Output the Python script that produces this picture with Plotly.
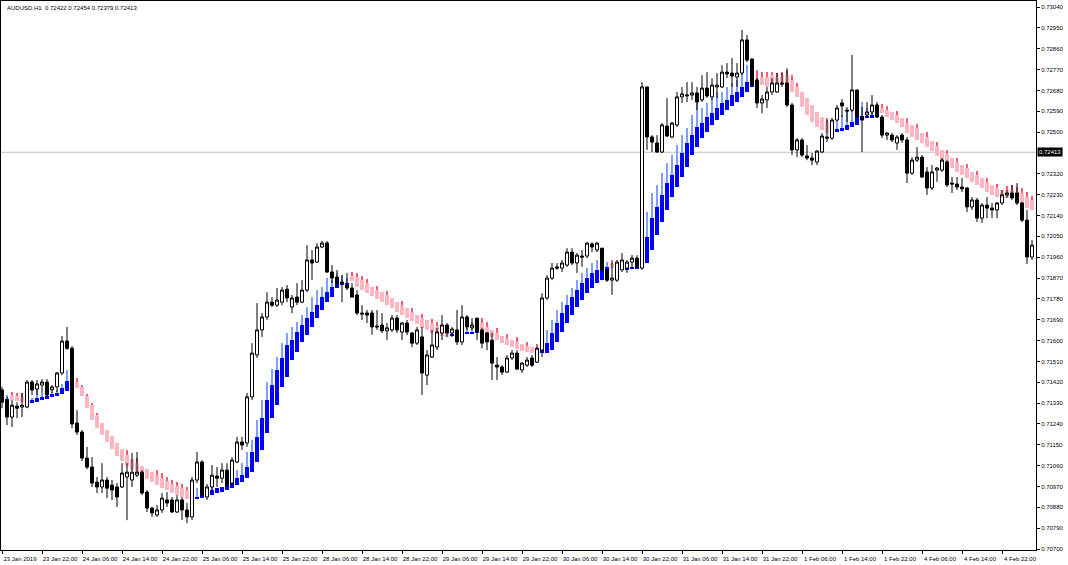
import plotly.graph_objects as go

symbol_title = "AUDUSD,H1  0.72422 0.72454 0.72379 0.72413"
last_price = 0.72413

date_labels = ["23 Jan 2019", "23 Jan 22:00", "24 Jan 06:00", "24 Jan 14:00", "24 Jan 22:00",
               "25 Jan 06:00", "25 Jan 14:00", "25 Jan 22:00", "28 Jan 06:00", "28 Jan 14:00",
               "28 Jan 22:00", "29 Jan 06:00", "29 Jan 14:00", "29 Jan 22:00", "30 Jan 06:00",
               "30 Jan 14:00", "30 Jan 22:00", "31 Jan 06:00", "31 Jan 14:00", "31 Jan 22:00",
               "1 Feb 06:00", "1 Feb 14:00", "1 Feb 22:00", "4 Feb 06:00", "4 Feb 14:00", "4 Feb 22:00"]
date_label_bars = [0, 8, 16, 24, 32, 40, 48, 56, 64, 72, 80, 88, 96, 104, 112, 120, 128,
                   136, 144, 152, 160, 168, 176, 184, 192, 200]

price_ticks = [0.70700, 0.70790, 0.70880, 0.70970, 0.71060, 0.71150, 0.71240, 0.71330, 0.71420,
               0.71510, 0.71600, 0.71690, 0.71780, 0.71870, 0.71960, 0.72050, 0.72140, 0.72230,
               0.72320, 0.72500, 0.72590, 0.72680, 0.72770, 0.72860, 0.72950, 0.73040]

bar_open = [
    0.71387, 0.71343, 0.71270, 0.71317, 0.71313, 0.71313, 0.71421, 0.71391, 0.71408, 0.71421,
    0.71387, 0.71400, 0.71460, 0.71598, 0.71567, 0.71244, 0.71205, 0.71093, 0.71054, 0.70989,
    0.70968, 0.70998, 0.70976, 0.70968, 0.70968, 0.71011, 0.70998, 0.71019, 0.71032, 0.70946,
    0.70877, 0.70847, 0.70869, 0.70912, 0.70912, 0.70860, 0.70912, 0.70869, 0.70839, 0.70998,
    0.71076, 0.70925, 0.70968, 0.71015, 0.71006, 0.71041, 0.70985, 0.71076, 0.71162, 0.71158,
    0.71357, 0.71538, 0.71646, 0.71702, 0.71766, 0.71753, 0.71766, 0.71822, 0.71745, 0.71788,
    0.71766, 0.71818, 0.71948, 0.71939, 0.72004, 0.72021, 0.71896, 0.71874, 0.71853, 0.71840,
    0.71827, 0.71797, 0.71719, 0.71719, 0.71719, 0.71663, 0.71667, 0.71642, 0.71646, 0.71697,
    0.71637, 0.71676, 0.71633, 0.71589, 0.71616, 0.71451, 0.71529, 0.71572, 0.71633, 0.71667,
    0.71633, 0.71646, 0.71594, 0.71702, 0.71655, 0.71697, 0.71646, 0.71633, 0.71602, 0.71494,
    0.71486, 0.71464, 0.71525, 0.71546, 0.71473, 0.71494, 0.71525, 0.71507, 0.71559, 0.71784,
    0.71870, 0.71918, 0.71913, 0.71926, 0.71982, 0.71935, 0.71965, 0.71965, 0.72017, 0.71991,
    0.71999, 0.71905, 0.71861, 0.71861, 0.71905, 0.71913, 0.71939, 0.71956, 0.71913, 0.72695,
    0.72479, 0.72453, 0.72414, 0.72526, 0.72479, 0.72531, 0.72652, 0.72656, 0.72660, 0.72669,
    0.72639, 0.72690, 0.72652, 0.72695, 0.72695, 0.72759, 0.72755, 0.72738, 0.72755, 0.72898,
    0.72815, 0.72725, 0.72626, 0.72639, 0.72673, 0.72673, 0.72712, 0.72712, 0.72617, 0.72423,
    0.72466, 0.72397, 0.72388, 0.72371, 0.72414, 0.72479, 0.72474, 0.72552, 0.72626, 0.72595,
    0.72595, 0.72682, 0.72565, 0.72574, 0.72587, 0.72617, 0.72565, 0.72487, 0.72487, 0.72453,
    0.72487, 0.72466, 0.72323, 0.72379, 0.72392, 0.72328, 0.72259, 0.72336, 0.72336, 0.72371,
    0.72280, 0.72276, 0.72263, 0.72259, 0.72177, 0.72207, 0.72129, 0.72185, 0.72172, 0.72164,
    0.72194, 0.72229, 0.72237, 0.72237, 0.72194, 0.72120, 0.71961]

bar_high = [
    0.71400, 0.71357, 0.71343, 0.71334, 0.71374, 0.71430, 0.71430, 0.71430, 0.71434, 0.71434,
    0.71408, 0.71464, 0.71620, 0.71659, 0.71576, 0.71300, 0.71214, 0.71141, 0.71097, 0.71011,
    0.71071, 0.71011, 0.70998, 0.70985, 0.71071, 0.71071, 0.71115, 0.71119, 0.71041, 0.70955,
    0.70882, 0.70890, 0.70942, 0.70946, 0.70925, 0.70933, 0.70925, 0.70899, 0.71011, 0.71119,
    0.71084, 0.70981, 0.71063, 0.71054, 0.71071, 0.71071, 0.71097, 0.71184, 0.71184, 0.71374,
    0.71589, 0.71762, 0.71719, 0.71809, 0.71788, 0.71827, 0.71831, 0.71840, 0.71797, 0.71848,
    0.71861, 0.72012, 0.71991, 0.72021, 0.72030, 0.72030, 0.71926, 0.71905, 0.71883, 0.71892,
    0.71848, 0.71818, 0.71753, 0.71732, 0.71732, 0.71732, 0.71719, 0.71676, 0.71710, 0.71710,
    0.71680, 0.71689, 0.71637, 0.71659, 0.71659, 0.71559, 0.71646, 0.71655, 0.71710, 0.71676,
    0.71659, 0.71732, 0.71753, 0.71710, 0.71697, 0.71697, 0.71655, 0.71637, 0.71633, 0.71529,
    0.71494, 0.71538, 0.71559, 0.71559, 0.71507, 0.71529, 0.71538, 0.71572, 0.71805, 0.71883,
    0.71935, 0.71935, 0.71948, 0.71999, 0.71999, 0.71978, 0.71991, 0.72025, 0.72025, 0.72025,
    0.71999, 0.71905, 0.71935, 0.71948, 0.71978, 0.71948, 0.71969, 0.71969, 0.72716, 0.72695,
    0.72487, 0.72487, 0.72539, 0.72647, 0.72544, 0.72673, 0.72695, 0.72716, 0.72716, 0.72695,
    0.72746, 0.72759, 0.72733, 0.72755, 0.72789, 0.72798, 0.72820, 0.72798, 0.72941, 0.72919,
    0.72820, 0.72733, 0.72660, 0.72695, 0.72733, 0.72755, 0.72755, 0.72776, 0.72626, 0.72474,
    0.72474, 0.72444, 0.72410, 0.72423, 0.72496, 0.72552, 0.72561, 0.72617, 0.72643, 0.72608,
    0.72833, 0.72682, 0.72608, 0.72630, 0.72660, 0.72630, 0.72574, 0.72500, 0.72496, 0.72487,
    0.72496, 0.72479, 0.72392, 0.72435, 0.72401, 0.72349, 0.72358, 0.72349, 0.72388, 0.72379,
    0.72306, 0.72306, 0.72302, 0.72263, 0.72220, 0.72216, 0.72194, 0.72220, 0.72194, 0.72198,
    0.72250, 0.72250, 0.72272, 0.72280, 0.72198, 0.72164, 0.72034]

bar_low = [
    0.71308, 0.71235, 0.71227, 0.71265, 0.71270, 0.71308, 0.71365, 0.71365, 0.71374, 0.71357,
    0.71374, 0.71378, 0.71451, 0.71559, 0.71222, 0.71192, 0.71080, 0.71045, 0.70968, 0.70942,
    0.70942, 0.70920, 0.70912, 0.70882, 0.70963, 0.70825, 0.70968, 0.71011, 0.70933, 0.70860,
    0.70839, 0.70839, 0.70856, 0.70882, 0.70856, 0.70856, 0.70825, 0.70812, 0.70825, 0.70985,
    0.70925, 0.70912, 0.70942, 0.70968, 0.70985, 0.70968, 0.70968, 0.71071, 0.71128, 0.71141,
    0.71343, 0.71525, 0.71616, 0.71689, 0.71745, 0.71745, 0.71753, 0.71766, 0.71719, 0.71753,
    0.71762, 0.71809, 0.71861, 0.71935, 0.71999, 0.71892, 0.71848, 0.71831, 0.71766, 0.71818,
    0.71784, 0.71710, 0.71689, 0.71676, 0.71625, 0.71646, 0.71633, 0.71602, 0.71637, 0.71633,
    0.71602, 0.71624, 0.71572, 0.71581, 0.71365, 0.71408, 0.71525, 0.71559, 0.71602, 0.71616,
    0.71616, 0.71581, 0.71581, 0.71646, 0.71646, 0.71602, 0.71567, 0.71559, 0.71430, 0.71430,
    0.71451, 0.71460, 0.71516, 0.71473, 0.71460, 0.71486, 0.71486, 0.71503, 0.71529, 0.71775,
    0.71861, 0.71905, 0.71896, 0.71918, 0.71926, 0.71892, 0.71918, 0.71956, 0.71982, 0.71982,
    0.71896, 0.71853, 0.71797, 0.71853, 0.71896, 0.71892, 0.71913, 0.71913, 0.71905, 0.72423,
    0.72414, 0.72410, 0.72410, 0.72479, 0.72474, 0.72522, 0.72626, 0.72630, 0.72639, 0.72595,
    0.72630, 0.72647, 0.72639, 0.72647, 0.72690, 0.72733, 0.72695, 0.72695, 0.72746, 0.72802,
    0.72695, 0.72604, 0.72582, 0.72604, 0.72660, 0.72669, 0.72695, 0.72608, 0.72401, 0.72392,
    0.72392, 0.72379, 0.72358, 0.72358, 0.72410, 0.72457, 0.72466, 0.72544, 0.72565, 0.72544,
    0.72587, 0.72561, 0.72414, 0.72561, 0.72574, 0.72561, 0.72474, 0.72466, 0.72457, 0.72423,
    0.72453, 0.72280, 0.72315, 0.72371, 0.72302, 0.72229, 0.72250, 0.72285, 0.72328, 0.72263,
    0.72237, 0.72250, 0.72241, 0.72155, 0.72164, 0.72112, 0.72108, 0.72129, 0.72129, 0.72129,
    0.72185, 0.72216, 0.72207, 0.72185, 0.72112, 0.71931, 0.71948]

bar_close = [
    0.71334, 0.71270, 0.71321, 0.71308, 0.71321, 0.71421, 0.71387, 0.71413, 0.71421, 0.71365,
    0.71400, 0.71460, 0.71598, 0.71567, 0.71240, 0.71205, 0.71093, 0.71054, 0.70985, 0.70968,
    0.70998, 0.70963, 0.70955, 0.70925, 0.71028, 0.71032, 0.71032, 0.71032, 0.70942, 0.70877,
    0.70856, 0.70869, 0.70920, 0.70899, 0.70860, 0.70912, 0.70869, 0.70839, 0.70998, 0.71076,
    0.70933, 0.70968, 0.71019, 0.71006, 0.71041, 0.70976, 0.71084, 0.71162, 0.71149, 0.71357,
    0.71546, 0.71646, 0.71702, 0.71766, 0.71753, 0.71775, 0.71818, 0.71784, 0.71784, 0.71766,
    0.71818, 0.71948, 0.71935, 0.72004, 0.72021, 0.71896, 0.71870, 0.71848, 0.71848, 0.71827,
    0.71788, 0.71719, 0.71715, 0.71710, 0.71659, 0.71659, 0.71642, 0.71655, 0.71697, 0.71646,
    0.71676, 0.71637, 0.71589, 0.71646, 0.71460, 0.71538, 0.71581, 0.71637, 0.71667, 0.71633,
    0.71650, 0.71594, 0.71702, 0.71659, 0.71667, 0.71637, 0.71589, 0.71594, 0.71503, 0.71486,
    0.71464, 0.71525, 0.71546, 0.71477, 0.71503, 0.71516, 0.71494, 0.71567, 0.71784, 0.71870,
    0.71913, 0.71913, 0.71935, 0.71982, 0.71935, 0.71969, 0.71961, 0.72021, 0.72004, 0.72021,
    0.71905, 0.71861, 0.71870, 0.71939, 0.71948, 0.71939, 0.71956, 0.71918, 0.72695, 0.72479,
    0.72457, 0.72414, 0.72531, 0.72483, 0.72539, 0.72652, 0.72665, 0.72660, 0.72669, 0.72630,
    0.72690, 0.72656, 0.72703, 0.72703, 0.72759, 0.72751, 0.72742, 0.72755, 0.72898, 0.72811,
    0.72703, 0.72626, 0.72643, 0.72673, 0.72712, 0.72712, 0.72708, 0.72617, 0.72423, 0.72466,
    0.72401, 0.72388, 0.72379, 0.72418, 0.72483, 0.72474, 0.72552, 0.72604, 0.72613, 0.72591,
    0.72682, 0.72565, 0.72552, 0.72587, 0.72617, 0.72565, 0.72487, 0.72496, 0.72466, 0.72479,
    0.72466, 0.72323, 0.72379, 0.72392, 0.72306, 0.72259, 0.72328, 0.72345, 0.72379, 0.72272,
    0.72276, 0.72263, 0.72255, 0.72177, 0.72207, 0.72129, 0.72185, 0.72172, 0.72164, 0.72194,
    0.72229, 0.72237, 0.72216, 0.72194, 0.72120, 0.71961, 0.72012]

# Smoothed Heiken Ashi indicator values
ha_open = [
    0.71334, 0.71334, 0.71365, 0.71361, 0.71357, 0.71330, 0.71330, 0.71334, 0.71343, 0.71348,
    0.71357, 0.71361, 0.71370, 0.71383, 0.71421, 0.71421, 0.71400, 0.71361, 0.71321, 0.71278,
    0.71244, 0.71214, 0.71188, 0.71158, 0.71132, 0.71106, 0.71089, 0.71071, 0.71058, 0.71045,
    0.71032, 0.71019, 0.71006, 0.70994, 0.70981, 0.70972, 0.70963, 0.70955, 0.70946, 0.70916,
    0.70920, 0.70925, 0.70933, 0.70942, 0.70946, 0.70955, 0.70963, 0.70976, 0.70989, 0.71006,
    0.71032, 0.71076, 0.71128, 0.71201, 0.71265, 0.71321, 0.71400, 0.71443, 0.71516, 0.71550,
    0.71594, 0.71624, 0.71659, 0.71697, 0.71732, 0.71766, 0.71788, 0.71827, 0.71840, 0.71844,
    0.71879, 0.71874, 0.71861, 0.71848, 0.71831, 0.71818, 0.71809, 0.71797, 0.71784, 0.71766,
    0.71753, 0.71740, 0.71723, 0.71710, 0.71697, 0.71689, 0.71676, 0.71663, 0.71655, 0.71646,
    0.71620, 0.71620, 0.71624, 0.71629, 0.71629, 0.71633, 0.71676, 0.71659, 0.71646, 0.71633,
    0.71620, 0.71611, 0.71602, 0.71594, 0.71585, 0.71576, 0.71572, 0.71567, 0.71546, 0.71546,
    0.71559, 0.71594, 0.71637, 0.71676, 0.71710, 0.71745, 0.71775, 0.71805, 0.71827, 0.71848,
    0.71861, 0.71879, 0.71931, 0.71905, 0.71905, 0.71905, 0.71909, 0.71909, 0.71913, 0.71935,
    0.71991, 0.72056, 0.72112, 0.72164, 0.72220, 0.72263, 0.72306, 0.72349, 0.72401, 0.72436,
    0.72474, 0.72500, 0.72531, 0.72552, 0.72574, 0.72595, 0.72613, 0.72630, 0.72652, 0.72673,
    0.72695, 0.72720, 0.72738, 0.72738, 0.72746, 0.72738, 0.72746, 0.72746, 0.72725, 0.72695,
    0.72673, 0.72647, 0.72617, 0.72587, 0.72565, 0.72544, 0.72531, 0.72500, 0.72505, 0.72509,
    0.72522, 0.72531, 0.72552, 0.72561, 0.72561, 0.72604, 0.72604, 0.72595, 0.72587, 0.72574,
    0.72561, 0.72539, 0.72531, 0.72518, 0.72496, 0.72479, 0.72462, 0.72440, 0.72423, 0.72405,
    0.72388, 0.72371, 0.72358, 0.72345, 0.72328, 0.72315, 0.72302, 0.72285, 0.72272, 0.72259,
    0.72250, 0.72250, 0.72250, 0.72241, 0.72237, 0.72220, 0.72207]

ha_close = [
    0.71348, 0.71348, 0.71343, 0.71339, 0.71334, 0.71348, 0.71343, 0.71352, 0.71357, 0.71361,
    0.71370, 0.71374, 0.71395, 0.71426, 0.71408, 0.71395, 0.71361, 0.71308, 0.71257, 0.71222,
    0.71192, 0.71162, 0.71132, 0.71102, 0.71080, 0.71058, 0.71041, 0.71028, 0.71015, 0.71002,
    0.70989, 0.70976, 0.70963, 0.70955, 0.70942, 0.70933, 0.70925, 0.70916, 0.70912, 0.70925,
    0.70933, 0.70946, 0.70955, 0.70963, 0.70968, 0.70976, 0.70989, 0.71006, 0.71019, 0.71054,
    0.71119, 0.71184, 0.71265, 0.71343, 0.71408, 0.71473, 0.71525, 0.71581, 0.71602, 0.71637,
    0.71667, 0.71697, 0.71723, 0.71753, 0.71788, 0.71809, 0.71831, 0.71853, 0.71853, 0.71848,
    0.71857, 0.71831, 0.71818, 0.71805, 0.71792, 0.71779, 0.71766, 0.71753, 0.71740, 0.71723,
    0.71710, 0.71697, 0.71684, 0.71671, 0.71655, 0.71646, 0.71633, 0.71624, 0.71620, 0.71616,
    0.71629, 0.71629, 0.71633, 0.71637, 0.71637, 0.71646, 0.71646, 0.71633, 0.71616, 0.71602,
    0.71589, 0.71581, 0.71572, 0.71563, 0.71555, 0.71550, 0.71546, 0.71542, 0.71559, 0.71589,
    0.71633, 0.71676, 0.71719, 0.71753, 0.71788, 0.71818, 0.71848, 0.71870, 0.71892, 0.71905,
    0.71918, 0.71918, 0.71913, 0.71913, 0.71913, 0.71918, 0.71918, 0.71918, 0.71926, 0.72047,
    0.72129, 0.72177, 0.72229, 0.72280, 0.72315, 0.72358, 0.72410, 0.72453, 0.72487, 0.72522,
    0.72539, 0.72565, 0.72582, 0.72604, 0.72626, 0.72639, 0.72660, 0.72673, 0.72695, 0.72716,
    0.72725, 0.72708, 0.72703, 0.72695, 0.72703, 0.72703, 0.72712, 0.72703, 0.72673, 0.72652,
    0.72608, 0.72574, 0.72544, 0.72522, 0.72509, 0.72496, 0.72492, 0.72513, 0.72518, 0.72531,
    0.72544, 0.72565, 0.72569, 0.72569, 0.72574, 0.72582, 0.72582, 0.72565, 0.72552, 0.72539,
    0.72522, 0.72496, 0.72479, 0.72466, 0.72453, 0.72436, 0.72418, 0.72397, 0.72379, 0.72362,
    0.72345, 0.72328, 0.72315, 0.72302, 0.72285, 0.72272, 0.72259, 0.72241, 0.72229, 0.72220,
    0.72216, 0.72216, 0.72220, 0.72207, 0.72194, 0.72172, 0.72164]

ha_high = [
    0.71378, 0.71365, 0.71378, 0.71374, 0.71374, 0.71378, 0.71352, 0.71400, 0.71374, 0.71374,
    0.71378, 0.71387, 0.71413, 0.71473, 0.71451, 0.71438, 0.71408, 0.71370, 0.71330, 0.71287,
    0.71244, 0.71214, 0.71188, 0.71158, 0.71132, 0.71128, 0.71089, 0.71093, 0.71058, 0.71045,
    0.71032, 0.71041, 0.71028, 0.71011, 0.70998, 0.70989, 0.70981, 0.70968, 0.70959, 0.70963,
    0.70955, 0.70963, 0.70976, 0.70963, 0.70968, 0.70976, 0.70989, 0.71041, 0.71071, 0.71119,
    0.71171, 0.71257, 0.71343, 0.71421, 0.71477, 0.71529, 0.71589, 0.71633, 0.71659, 0.71680,
    0.71710, 0.71745, 0.71788, 0.71818, 0.71831, 0.71870, 0.71861, 0.71892, 0.71883, 0.71870,
    0.71896, 0.71892, 0.71879, 0.71866, 0.71831, 0.71835, 0.71809, 0.71814, 0.71784, 0.71766,
    0.71770, 0.71740, 0.71740, 0.71710, 0.71715, 0.71689, 0.71693, 0.71680, 0.71671, 0.71646,
    0.71646, 0.71629, 0.71667, 0.71697, 0.71680, 0.71689, 0.71697, 0.71680, 0.71646, 0.71655,
    0.71620, 0.71629, 0.71602, 0.71616, 0.71585, 0.71594, 0.71572, 0.71585, 0.71646, 0.71646,
    0.71689, 0.71732, 0.71766, 0.71797, 0.71827, 0.71861, 0.71892, 0.71913, 0.71935, 0.71948,
    0.71948, 0.71939, 0.71948, 0.71926, 0.71913, 0.71918, 0.71918, 0.71918, 0.71939, 0.72155,
    0.72237, 0.72272, 0.72323, 0.72366, 0.72401, 0.72444, 0.72487, 0.72517, 0.72574, 0.72626,
    0.72604, 0.72626, 0.72647, 0.72673, 0.72673, 0.72695, 0.72712, 0.72725, 0.72759, 0.72789,
    0.72776, 0.72768, 0.72759, 0.72759, 0.72759, 0.72755, 0.72759, 0.72768, 0.72746, 0.72712,
    0.72673, 0.72647, 0.72617, 0.72587, 0.72565, 0.72561, 0.72531, 0.72544, 0.72574, 0.72595,
    0.72608, 0.72630, 0.72630, 0.72604, 0.72595, 0.72621, 0.72621, 0.72613, 0.72587, 0.72591,
    0.72561, 0.72561, 0.72531, 0.72535, 0.72496, 0.72500, 0.72462, 0.72457, 0.72423, 0.72423,
    0.72388, 0.72388, 0.72358, 0.72362, 0.72328, 0.72332, 0.72302, 0.72302, 0.72272, 0.72276,
    0.72250, 0.72267, 0.72272, 0.72263, 0.72259, 0.72241, 0.72224]

FONT = "Tahoma, Liberation Sans, Arial, sans-serif"
BULL_BODY, BULL_WICK = "#0000FF", "#7FA0FF"
BEAR_BODY, BEAR_WICK = "#FFB6C1", "#FF5A70"

n = len(bar_open)
xs = list(range(n))

fig = go.Figure()

fig.add_trace(go.Candlestick(
    x=xs, open=bar_open, high=bar_high, low=bar_low, close=bar_close,
    increasing=dict(line=dict(color="black", width=1), fillcolor="white"),
    decreasing=dict(line=dict(color="black", width=1), fillcolor="black"),
    whiskerwidth=0, hoverinfo="skip", showlegend=False))

# Heiken Ashi wicks and bodies
for bull in (True, False):
    wx, wb, wh, bx, bb, bh = [], [], [], [], [], []
    for i in range(n):
        o, c, h = ha_open[i], ha_close[i], ha_high[i]
        if (c >= o) != bull:
            continue
        top, bot = max(o, c), min(o, c)
        if h > top:
            wx.append(i); wb.append(top); wh.append(h - top)
        bx.append(i); bb.append(bot); bh.append(max(top - bot, 0.00003))
    fig.add_trace(go.Bar(x=wx, y=wh, base=wb, width=0.22,
                         marker=dict(color=BULL_WICK if bull else BEAR_WICK, line=dict(width=0)),
                         hoverinfo="skip", showlegend=False))
    fig.add_trace(go.Bar(x=bx, y=bh, base=bb, width=0.8,
                         marker=dict(color=BULL_BODY if bull else BEAR_BODY, line=dict(width=0)),
                         hoverinfo="skip", showlegend=False))

fig.add_shape(type="line", xref="paper", x0=0, x1=1, yref="y", y0=last_price, y1=last_price,
              line=dict(color="#C0C0C0", width=1), layer="below")

fig.add_annotation(xref="paper", yref="paper", x=0, y=1, xanchor="left", yanchor="top",
                   xshift=4, yshift=-2, text=symbol_title, showarrow=False,
                   font=dict(family=FONT, size=6, color="black"))

fig.add_annotation(xref="paper", yref="y", x=1, y=last_price, xanchor="left", yanchor="middle",
                   xshift=1, text=f"{last_price:.5f}", showarrow=False, bgcolor="black",
                   borderpad=1, font=dict(family=FONT, size=6, color="white"))

fig.update_layout(
    width=1068, height=565,
    margin=dict(l=1, r=32, t=1, b=15),
    paper_bgcolor="white", plot_bgcolor="white",
    barmode="overlay", bargap=0, boxgap=0.4, boxgroupgap=0,
    showlegend=False,
    font=dict(family=FONT, size=6, color="black"),
    xaxis=dict(range=[-0.2, 206.8], tickmode="array", tickvals=date_label_bars, ticktext=date_labels,
               ticks="outside", ticklen=3, tickcolor="black", showline=True, linecolor="black",
               linewidth=1, mirror=True, showgrid=False, zeroline=False, ticklabelshift=18,
               rangeslider=dict(visible=False), tickfont=dict(family=FONT, size=6, color="black")),
    yaxis=dict(side="right", range=[0.70696, 0.73066], tickmode="array", tickvals=price_ticks,
               ticktext=[f"{v:.5f}" for v in price_ticks], ticks="outside", ticklen=3,
               tickcolor="black", showline=True, linecolor="black", linewidth=1, mirror=True,
               showgrid=False, zeroline=False, tickfont=dict(family=FONT, size=6, color="black")),
)

fig.write_html("out.html", config={"displayModeBar": False},
               post_script="document.body.style.margin='0px';document.body.style.overflow='hidden';")
